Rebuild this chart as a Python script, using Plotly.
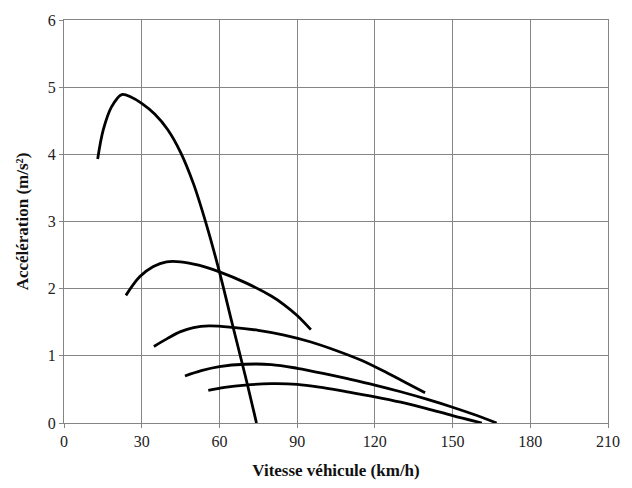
import plotly.graph_objects as go

# Courbes d'accélération par rapport (vitesse km/h, accélération m/s²)
g1_x = [13.0, 15.2, 18.4, 22.3, 26.0, 30.0, 35.0, 40.0, 45.0, 50.0, 55.0, 60.0, 65.0, 70.0, 74.3]
g1_y = [3.93, 4.37, 4.71, 4.89, 4.85, 4.76, 4.60, 4.37, 4.03, 3.56, 2.95, 2.25, 1.47, 0.70, 0.0]

g2_x = [23.9, 29.3, 34.5, 39.6, 45.0, 52.0, 60.0, 70.0, 80.0, 85.0, 90.0, 95.3]
g2_y = [1.90, 2.18, 2.33, 2.40, 2.40, 2.35, 2.25, 2.09, 1.89, 1.76, 1.60, 1.39]

g3_x = [34.7, 40.0, 45.0, 50.0, 56.0, 65.0, 75.0, 85.0, 95.0, 105.0, 115.0, 125.0, 132.0, 139.4]
g3_y = [1.14, 1.26, 1.36, 1.42, 1.445, 1.425, 1.38, 1.31, 1.21, 1.08, 0.93, 0.74, 0.60, 0.45]

g4_x = [46.7, 53.0, 60.0, 70.0, 80.0, 90.0, 100.0, 110.0, 120.0, 130.0, 140.0, 150.0, 158.0, 167.0]
g4_y = [0.70, 0.78, 0.84, 0.875, 0.87, 0.815, 0.74, 0.655, 0.565, 0.465, 0.355, 0.235, 0.13, 0.0]

g5_x = [55.7, 62.0, 70.0, 80.0, 90.0, 100.0, 110.0, 120.0, 130.0, 140.0, 150.0, 161.3]
g5_y = [0.485, 0.53, 0.565, 0.585, 0.575, 0.525, 0.46, 0.39, 0.31, 0.215, 0.11, 0.0]

series = [(g1_x, g1_y), (g2_x, g2_y), (g3_x, g3_y), (g4_x, g4_y), (g5_x, g5_y)]

x_ticks = [0, 30, 60, 90, 120, 150, 180, 210]
y_ticks = [0, 1, 2, 3, 4, 5, 6]

fig = go.Figure()
for xs, ys in series:
    fig.add_trace(go.Scatter(x=xs, y=ys, mode="lines",
                             line=dict(color="black", width=2.8, shape="spline", smoothing=1.0),
                             showlegend=False, hoverinfo="skip"))

font = "Liberation Serif, Times New Roman, serif"
axis_common = dict(showgrid=True, gridcolor="#858585", gridwidth=1,
                   showline=True, linecolor="#858585", linewidth=1, mirror=True,
                   ticks="outside", ticklen=4, tickcolor="#858585",
                   zeroline=False, tickfont=dict(family=font, size=16, color="#222"))

fig.update_layout(
    width=632, height=488,
    margin=dict(l=64, r=24, t=16, b=65),
    paper_bgcolor="white", plot_bgcolor="white",
    font=dict(family=font),
    xaxis=dict(range=[0, 210], tickvals=x_ticks,
               title=dict(text="<b>Vitesse véhicule (km/h)</b>", font=dict(family=font, size=17, color="#111"), standoff=14),
               **axis_common),
    yaxis=dict(range=[0, 6], tickvals=y_ticks,
               title=dict(text="<b>Accélération (m/s²)</b>", font=dict(family=font, size=17, color="#111"), standoff=14),
               **axis_common),
)

fig.write_html("out.html")
